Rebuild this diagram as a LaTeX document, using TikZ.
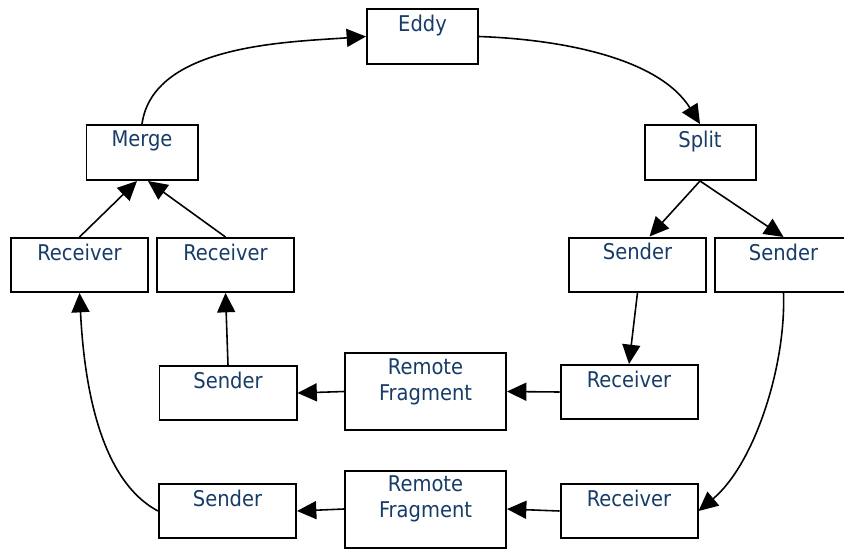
\documentclass[tikz,border=0pt]{standalone}
\usepackage{fontspec}
\setmainfont{DejaVu Sans Condensed}
\usetikzlibrary{arrows.meta}
\definecolor{txtblue}{RGB}{23,60,104}
\tikzset{
  box/.style={draw,line width=1.7pt,minimum width=4.11cm,minimum height=1.62cm,inner sep=0pt},
  smallbox/.style={box,minimum width=3.33cm,minimum height=1.65cm},
  fragbox/.style={box,minimum width=4.83cm,minimum height=2.31cm},
  lbl/.style={text=txtblue,font=\fontsize{18.5}{22}\selectfont,align=center,inner sep=5.5pt},
  flow/.style={line width=1.35pt,-{Triangle[length=0.58cm,width=0.54cm]}}
}
\begin{document}
\begin{tikzpicture}[x=0.03cm,y=-0.03cm]
      \useasboundingbox (0,0) rectangle (844,549);
      %top
      \node[smallbox,label={[lbl,anchor=north]north:Eddy}] (eddy) at (422.5,36.5) {};
      \node[smallbox,label={[lbl,anchor=north]north:Merge}] (merge) at (142,152.5) {};
      \node[smallbox,label={[lbl,anchor=north]north:Split}] (split) at (700,152.5) {};
      %receivers and senders
      \node[box,label={[lbl,anchor=north]north:Receiver}] (recvA) at (79.5,265) {};
      \node[box,label={[lbl,anchor=north]north:Receiver}] (recvB) at (225.5,265) {};
      \node[box,label={[lbl,anchor=north]north:Sender}] (sendA) at (637.5,264.5) {};
      \node[box,label={[lbl,anchor=north]north:Sender}] (sendB) at (783.5,265) {};
      %fragments
      \node[box,label={[lbl,anchor=north]north:Sender}] (sendM) at (228,393) {};
      \node[fragbox,label={[lbl,anchor=north]north:Remote\\Fragment}] (fragM) at (425.5,391.5) {};
      \node[box,label={[lbl,anchor=north]north:Receiver}] (recvM) at (629,392) {};
      \node[box,label={[lbl,anchor=north]north:Sender}] (sendL) at (227.5,511) {};
      \node[fragbox,label={[lbl,anchor=north]north:Remote\\Fragment}] (fragL) at (425.5,509) {};
      \node[box,label={[lbl,anchor=north]north:Receiver}] (recvL) at (629,511) {};
      %frecce
      \draw[flow] (merge.north) to[out=82,in=184,looseness=0.85] (eddy.west);
      \draw[flow] (eddy.east) to[out=-2,in=122,looseness=0.85] (split.north);
      \draw[flow] (split.south) -- ([xshift=0.36cm]sendA.north);
      \draw[flow] (split.south) -- (sendB.north);
      \draw[flow] (recvA.north) -- ([xshift=-0.15cm]merge.south);
      \draw[flow] (recvB.north) -- ([xshift=0.18cm]merge.south);
      \draw[flow] (sendM.north) -- (recvB.south);
      \draw[flow] (sendA.south) -- (recvM.north);
      \draw[flow] (recvM.west) -- (fragM.east);
      \draw[flow] (fragM.west) -- (sendM.east);
      \draw[flow] (recvL.west) -- (fragL.east);
      \draw[flow] (fragL.west) -- (sendL.east);
      \draw[flow] (sendB.south) to[out=-88,in=40,looseness=0.8] (recvL.east);
      \draw[flow] (sendL.west) to[out=152,in=-87,looseness=0.8] (recvA.south);
\end{tikzpicture}
\end{document}
